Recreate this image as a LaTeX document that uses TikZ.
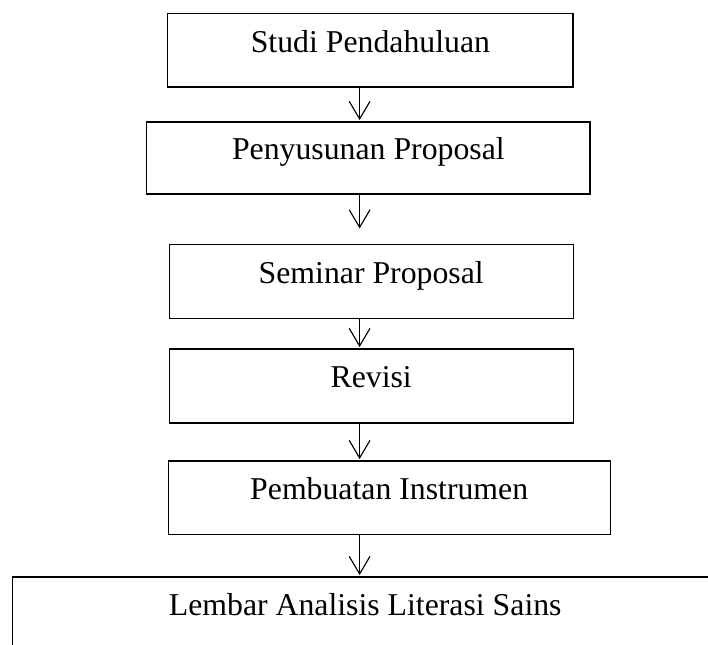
\documentclass[tikz,border=0pt]{standalone}
\usepackage{fontspec}
\setmainfont{Liberation Serif}
\usetikzlibrary{arrows.meta}

\begin{document}
\begin{tikzpicture}[
  box/.style={draw, line width=0.8pt, inner sep=0pt, text height=0.5em, text depth=0.22em,
    font=\fontsize{22.6}{27}\selectfont},
  flow/.style={draw, line width=0.8pt, -{Straight Barb[length=4.4mm,width=5.2mm]}, shorten >=1pt}
]
% Page
\useasboundingbox (0,0) rectangle (17.7,-16.1);
\clip (0,0) rectangle (17.7,-16.1);

% Steps
\node[box, minimum width=10.13cm, minimum height=1.83cm] (studi) at (9.26,-1.26) {Studi Pendahuluan};
\node[box, minimum width=11.08cm, minimum height=1.8cm] (usul) at (9.21,-3.95) {Penyusunan Proposal};
\node[box, minimum width=10.1cm, minimum height=1.85cm] (seminar) at (9.28,-7.03) {Seminar Proposal};
\node[box, minimum width=10.1cm, minimum height=1.85cm] (revisi) at (9.28,-9.65) {Revisi};
\node[box, minimum width=11.05cm, minimum height=1.83cm] (instrumen) at (9.73,-12.44) {Pembuatan Instrumen};
\node[box, minimum width=17.65cm, minimum height=1.83cm] (lembar) at (9.13,-15.34) {Lembar Analisis Literasi Sains};

% Arrows
\coordinate (axis) at (8.99,0);
\draw[flow] (studi.south -| axis) -- (usul.north -| axis);
\draw[flow, shorten >=0.38cm] (usul.south -| axis) -- (seminar.north -| axis);
\draw[flow] (seminar.south -| axis) -- (revisi.north -| axis);
\draw[flow] (revisi.south -| axis) -- (instrumen.north -| axis);
\draw[flow] (instrumen.south -| axis) -- (lembar.north -| axis);
\end{tikzpicture}
\end{document}
